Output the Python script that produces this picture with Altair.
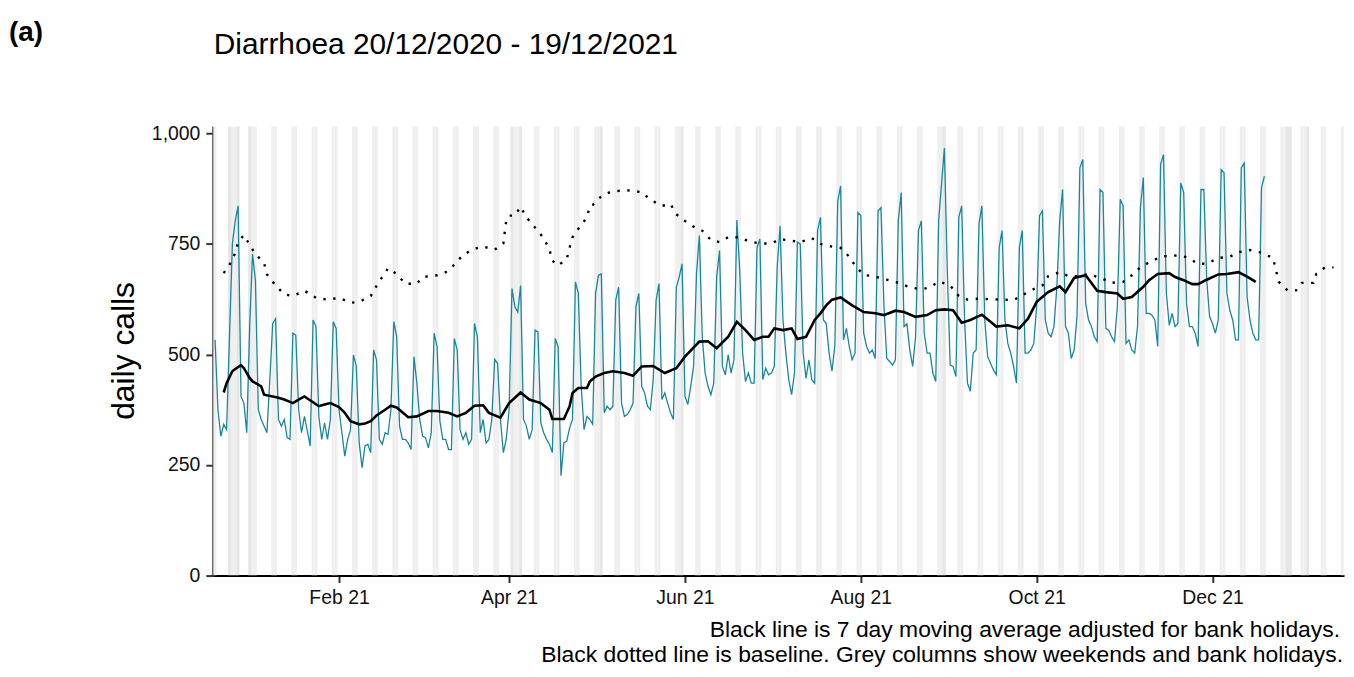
import altair as alt
import pandas as pd

FONT = "Liberation Sans"
TEAL = "#17879C"

TITLE = "Diarrhoea 20/12/2020 - 19/12/2021"
PANEL = "(a)"
Y_TITLE = "daily calls"
CAPTION_1 = "Black line is 7 day moving average adjusted for bank holidays."
CAPTION_2 = "Black dotted line is baseline. Grey columns show weekends and bank holidays."

START = "2020-12-20"

# daily calls, one value per day from 20/12/2020 (Sunday) to 19/12/2021
daily_calls = [
    533, 375, 315, 342, 330, 540, 750,
    802, 836, 405, 390, 323, 563, 727,
    668, 375, 353, 338, 323, 443, 570,
    581, 353, 338, 353, 312, 308, 548,
    544, 375, 323, 360, 327, 293, 578,
    563, 360, 308, 345, 308, 353, 574,
    559, 375, 323, 270, 308, 330, 499,
    473, 300, 244, 293, 297, 278, 510,
    488, 308, 297, 323, 319, 375, 574,
    540, 338, 308, 308, 300, 285, 495,
    435, 353, 315, 312, 289, 323, 548,
    518, 349, 308, 308, 285, 285, 536,
    510, 330, 308, 323, 297, 308, 570,
    540, 323, 353, 300, 308, 353, 489,
    480, 353, 278, 308, 375, 649, 608,
    596, 656, 353, 338, 308, 330, 555,
    551, 345, 323, 308, 297, 278, 536,
    518, 226, 300, 304, 334, 353, 664,
    638, 428, 330, 360, 353, 342, 638,
    679, 682, 368, 383, 375, 383, 623,
    652, 390, 360, 364, 375, 390, 608,
    638, 428, 413, 383, 375, 443, 623,
    660, 398, 413, 390, 368, 353, 652,
    675, 705, 405, 387, 428, 473, 682,
    769, 540, 458, 428, 409, 435, 675,
    735, 473, 454, 499, 458, 488, 804,
    690, 503, 439, 458, 435, 435, 742,
    761, 443, 469, 454, 458, 473, 697,
    791, 578, 503, 443, 409, 458, 754,
    750, 503, 446, 488, 443, 435, 780,
    810, 578, 570, 503, 462, 520, 847,
    881, 533, 559, 518, 488, 503, 821,
    814, 548, 518, 503, 510, 491, 825,
    832, 615, 491, 484, 476, 488, 802,
    866, 563, 569, 510, 473, 540, 780,
    802, 548, 503, 503, 458, 439, 802,
    885, 967, 690, 476, 473, 450, 810,
    836, 578, 435, 417, 503, 510, 795,
    836, 578, 495, 480, 465, 454, 742,
    780, 578, 525, 503, 473, 435, 742,
    780, 503, 503, 510, 525, 608, 814,
    825, 578, 548, 540, 563, 652, 802,
    873, 563, 548, 491, 510, 585, 922,
    941, 615, 578, 563, 540, 529, 873,
    866, 559, 555, 540, 529, 608, 851,
    836, 525, 533, 510, 503, 563, 832,
    900, 593, 593, 589, 578, 518, 930,
    952, 638, 566, 593, 563, 570, 888,
    866, 615, 563, 563, 548, 518, 873,
    873, 668, 585, 570, 548, 578, 918,
    911, 638, 600, 578, 533, 533, 922,
    933, 630, 578, 548, 533, 533, 877,
    903,
]

# 7 day moving average (days after START, value)
ma_day = [3, 4, 6, 7, 9, 10, 12, 13, 15, 16, 17, 20, 22, 24, 27, 29, 31, 34, 36, 38,
          40, 43, 45, 47, 50, 52, 54, 56, 59, 61, 63, 67, 70, 74, 77, 81, 84, 87, 90, 93,
          95, 99, 102, 106, 109, 113, 116, 117, 121, 123, 124, 126, 129, 130, 132, 135, 138, 142, 145, 148,
          152, 156, 160, 163, 168, 171, 174, 178, 181, 184, 187, 190, 192, 194, 197, 200, 202, 205, 208, 210,
          212, 214, 217, 221, 225, 229, 232, 236, 239, 243, 247, 250, 253, 256, 259, 262, 266, 269, 271, 275,
          279, 282, 285, 289, 293, 295, 298, 302, 306, 309, 313, 315, 318, 322, 324, 327, 331, 333, 336, 339,
          341, 344, 348, 351, 355, 358, 361]
ma_value = [414, 435, 462, 467, 476, 469, 447, 439, 432, 428, 409, 405, 402, 398, 390, 398, 405, 392, 383, 387,
            390, 381, 368, 349, 342, 344, 349, 362, 375, 384, 380, 358, 360, 372, 372, 368, 360, 368, 384, 385,
            368, 357, 390, 414, 398, 390, 375, 354, 354, 383, 413, 424, 424, 439, 450, 458, 462, 458, 452, 473,
            474, 458, 469, 495, 529, 530, 514, 540, 574, 555, 533, 540, 540, 559, 555, 559, 535, 540, 578, 593,
            611, 624, 629, 611, 596, 593, 589, 599, 596, 585, 589, 600, 602, 600, 572, 578, 590, 574, 563, 566,
            559, 581, 619, 641, 654, 641, 673, 679, 644, 641, 638, 626, 630, 653, 668, 682, 684, 675, 668, 659,
            659, 669, 681, 682, 686, 676, 664]

# baseline (days after START, value)
base_day = [3, 5, 7, 8, 10, 12, 14, 17, 18, 21, 24, 27, 31, 35, 39, 43, 47, 50, 54, 56,
            58, 60, 63, 66, 70, 72, 77, 80, 83, 86, 90, 93, 97, 100, 101, 102, 104, 106, 108, 111,
            114, 116, 117, 119, 122, 123, 124, 126, 129, 130, 131, 134, 137, 140, 144, 148, 151, 155, 158, 160,
            163, 166, 169, 172, 175, 178, 182, 185, 189, 193, 196, 200, 203, 207, 210, 214, 217, 220, 222, 225,
            229, 233, 237, 241, 245, 248, 251, 255, 258, 261, 265, 269, 273, 277, 280, 284, 287, 289, 293, 296,
            300, 303, 308, 311, 315, 318, 321, 325, 329, 334, 337, 341, 344, 348, 352, 355, 359, 363, 367, 368,
            369, 372, 375, 377, 381, 382, 385, 388]
base_value = [684, 703, 729, 754, 770, 748, 727, 707, 681, 656, 636, 632, 644, 628, 624, 628, 617, 619, 632, 655,
              675, 695, 682, 660, 660, 675, 679, 686, 703, 725, 739, 744, 737, 751, 802, 814, 814, 834, 810, 787,
              763, 737, 712, 701, 716, 742, 765, 784, 810, 836, 838, 858, 867, 870, 871, 867, 850, 836, 840, 817,
              802, 789, 780, 759, 754, 765, 765, 756, 751, 751, 761, 757, 754, 763, 750, 744, 741, 721, 701, 680,
              676, 669, 662, 652, 647, 652, 665, 656, 632, 624, 626, 625, 624, 623, 634, 648, 656, 677, 686, 677,
              677, 682, 671, 662, 664, 679, 697, 712, 722, 724, 720, 705, 705, 718, 721, 731, 736, 730, 718, 691,
              664, 645, 645, 662, 662, 682, 697, 697]

bank_holidays = ["2020-12-25", "2020-12-28", "2021-01-01", "2021-04-02", "2021-04-05",
                 "2021-05-03", "2021-05-31", "2021-08-30", "2021-12-27", "2021-12-28",
                 "2022-01-03"]

x_tick_months = [(2021, 2), (2021, 4), (2021, 6), (2021, 8), (2021, 10), (2021, 12)]
y_ticks = [0, 250, 500, 750, 1000]
Y_MAX = 1016

FMT = "%Y-%m-%dT%H:%M:%S"
start = pd.Timestamp(START)

daily_df = pd.DataFrame({
    "date": pd.date_range(START, periods=len(daily_calls), freq="D").strftime(FMT),
    "calls": daily_calls,
})
ma_df = pd.DataFrame({
    "date": [(start + pd.Timedelta(days=d)).strftime(FMT) for d in ma_day],
    "calls": ma_value,
})
base_df = pd.DataFrame({
    "date": [(start + pd.Timedelta(days=d)).strftime(FMT) for d in base_day],
    "calls": base_value,
})

all_days = pd.date_range("2020-12-18", "2022-01-17", freq="D")
weekend_days = [d for d in all_days if d.dayofweek >= 5]
hol_days = [pd.Timestamp(h) for h in bank_holidays]


def columns_df(days):
    return pd.DataFrame({
        "start": [(d - pd.Timedelta(hours=12)).strftime(FMT) for d in days],
        "end": [(d + pd.Timedelta(hours=12)).strftime(FMT) for d in days],
    })


weekend_df = columns_df(weekend_days)
hol_df = columns_df(hol_days)

x_scale = alt.Scale(domain=[alt.DateTime(year=2020, month=12, date=19, hours=5),
                            alt.DateTime(year=2022, month=1, date=15, hours=14, minutes=53)])
x_axis = alt.Axis(values=[alt.DateTime(year=y, month=m, date=1) for y, m in x_tick_months],
                  format="%b %y", labelPadding=6)
y_scale = alt.Scale(domain=[0, Y_MAX], nice=False)
y_axis = alt.Axis(values=y_ticks, format=",.0f", labelPadding=6)

X = alt.X("date:T", scale=x_scale, axis=x_axis, title=None)
Y = alt.Y("calls:Q", scale=y_scale, axis=y_axis, title=None)

weekends = alt.Chart(weekend_df).mark_rect(color="#EFEFEF", clip=True).encode(
    x=alt.X("start:T", scale=x_scale, axis=x_axis, title=None), x2="end:T")
holidays = alt.Chart(hol_df).mark_rect(color="#E6E6E6", clip=True).encode(
    x=alt.X("start:T", scale=x_scale, axis=x_axis, title=None), x2="end:T")

teal = alt.Chart(daily_df).mark_line(color=TEAL, strokeWidth=1.3).encode(x=X, y=Y)
baseline = alt.Chart(base_df).mark_line(color="black", strokeWidth=2.4,
                                         strokeDash=[2.4, 7.6], strokeCap="butt").encode(x=X, y=Y)
ma = alt.Chart(ma_df).mark_line(color="black", strokeWidth=2.6).encode(x=X, y=Y)


def text_layer(txt, x, y, size, align="left", baseline_="alphabetic", bold=False, angle=0):
    kw = dict(align=align, baseline=baseline_, fontSize=size, font=FONT, color="black")
    if bold:
        kw["fontWeight"] = "bold"
    if angle:
        kw["angle"] = angle
    return alt.Chart(pd.DataFrame({"t": [txt]})).mark_text(**kw).encode(
        x=alt.value(x), y=alt.value(y), text="t:N")


title_t = text_layer(TITLE, 1, -73, 30)
panel_t = text_layer(PANEL, -205, -86, 28, bold=True)
ytitle_t = text_layer(Y_TITLE, -89, 226, 32, align="center", baseline_="middle", angle=270)
cap1 = text_layer(CAPTION_1, 1134, 514, 23, align="right")
cap2 = text_layer(CAPTION_2, 1137, 539, 23, align="right")

chart = alt.layer(weekends, holidays, teal, baseline, ma,
                  title_t, panel_t, ytitle_t, cap1, cap2).properties(
    width=1138, height=452,
    autosize=alt.AutoSizeParams(type="none"),
    padding={"left": 206, "top": 117, "right": 2, "bottom": 91},
).configure_view(stroke=None).configure_axis(
    domainColor="black", domainWidth=2, tickColor="#333333", tickWidth=2, tickSize=7,
    labelColor="#111111", labelFont=FONT, labelFontSize=19.5, grid=False,
)

chart.save("out.html", embed_options={"renderer": "svg", "actions": False})
